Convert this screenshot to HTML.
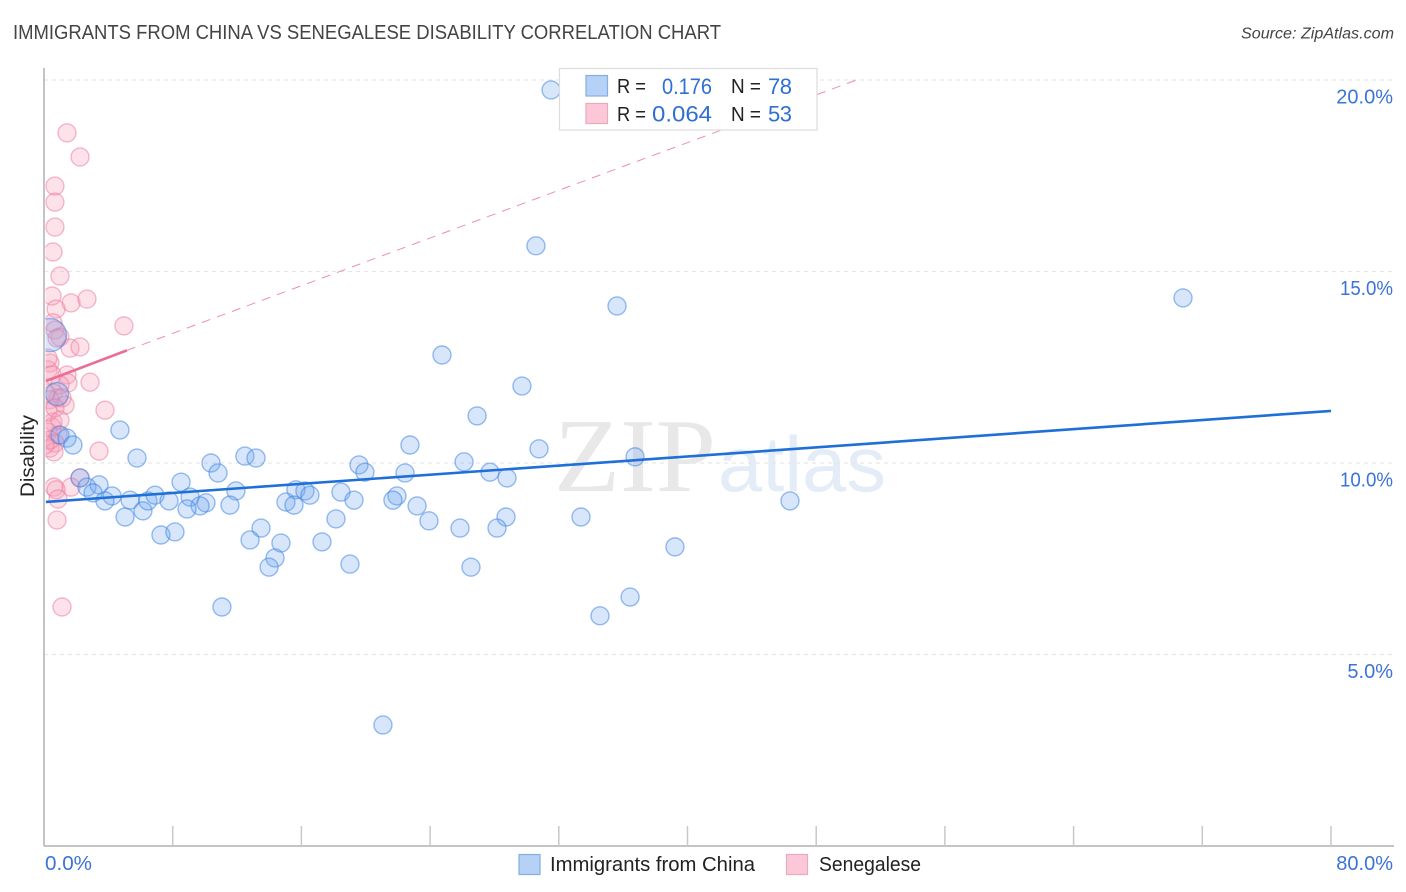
<!DOCTYPE html>
<html lang="en">
<head>
<meta charset="utf-8">
<title>Immigrants from China vs Senegalese Disability Correlation Chart</title>
<style>
html,body{margin:0;padding:0;background:#fff;}
body{width:1406px;height:892px;overflow:hidden;}
svg{display:block;font-family:"Liberation Sans",sans-serif;}
</style>
</head>
<body>
<svg id="chart" xmlns="http://www.w3.org/2000/svg" width="1406" height="892" viewBox="0 0 1406 892">
  <defs>
    <clipPath id="plot-clip"><rect x="45.5" y="60" width="1360" height="786"/></clipPath>
  </defs>
  <rect x="0" y="0" width="1406" height="892" fill="#fff"/>
  <text x="13" y="39" font-size="20" fill="#444" textLength="708" lengthAdjust="spacingAndGlyphs">IMMIGRANTS FROM CHINA VS SENEGALESE DISABILITY CORRELATION CHART</text>
  <text x="1241" y="38.5" font-size="15.5" font-style="italic" fill="#444" textLength="153" lengthAdjust="spacingAndGlyphs">Source: ZipAtlas.com</text>
  <g>
    <text x="554" y="491" font-family="'Liberation Serif',serif" font-size="105" fill="#e8e8e8" textLength="162" lengthAdjust="spacingAndGlyphs">ZIP</text>
    <text x="718" y="491" font-size="78" fill="#e4ecf8" textLength="168" lengthAdjust="spacingAndGlyphs">atlas</text>
  </g>
  <g id="grid"></g>
  <g id="axes"></g>
  <g id="points" clip-path="url(#plot-clip)"></g>
  <g id="trends"></g>
  <text transform="translate(34 456) rotate(-90)" font-size="19" fill="#222" text-anchor="middle" textLength="82" lengthAdjust="spacingAndGlyphs">Disability</text>
  <g>
    <rect x="559.5" y="68.5" width="257.5" height="61.5" fill="#fff" stroke="#dcdcdc" stroke-width="1.2"/>
    <rect x="586" y="75.5" width="21.5" height="20.5" fill="#b5d1f5" stroke="#85aee3" stroke-width="1.2"/>
    <rect x="586" y="103.5" width="21.5" height="20" fill="#fcc8d8" stroke="#eba9bf" stroke-width="1.2"/>
    <text x="617" y="93" font-size="20" fill="#222" textLength="29" lengthAdjust="spacingAndGlyphs">R =</text>
    <text x="662" y="94" font-size="22" fill="#2f6fd1" textLength="50" lengthAdjust="spacingAndGlyphs">0.176</text>
    <text x="731" y="93" font-size="20" fill="#222" textLength="30" lengthAdjust="spacingAndGlyphs">N =</text>
    <text x="768" y="94" font-size="22" fill="#2f6fd1" textLength="24">78</text>
    <text x="617" y="121" font-size="20" fill="#222" textLength="29" lengthAdjust="spacingAndGlyphs">R =</text>
    <text x="652" y="121.5" font-size="22" fill="#2f6fd1" textLength="60" lengthAdjust="spacingAndGlyphs">0.064</text>
    <text x="731" y="121" font-size="20" fill="#222" textLength="30" lengthAdjust="spacingAndGlyphs">N =</text>
    <text x="768" y="121.5" font-size="22" fill="#2f6fd1" textLength="24">53</text>
  </g>
  <g>
    <rect x="519" y="854.5" width="21" height="20" fill="#b5d1f5" stroke="#85aee3" stroke-width="1.2"/>
    <text x="550" y="871" font-size="20" fill="#222" textLength="205" lengthAdjust="spacingAndGlyphs">Immigrants from China</text>
    <rect x="786.5" y="854.5" width="21" height="20" fill="#fcc8d8" stroke="#eba9bf" stroke-width="1.2"/>
    <text x="819" y="871" font-size="20" fill="#222" textLength="102" lengthAdjust="spacingAndGlyphs">Senegalese</text>
  </g>
</svg>
<script>
// Chart data, in axis units (percent)
const xTickValues = [8, 16, 24, 32, 40, 48, 56, 64, 72, 80];
const xEndLabels = ["0.0%", "80.0%"];
const yTickValues = [5, 10, 15, 20];
const yTickLabels = ["5.0%", "10.0%", "15.0%", "20.0%"];

const chinaX = [5.78,5.35,5.04,6.15,6.46,6.90,7.77,8.52,10.38,10.82,12.49,13.18,11.93,9.08,10.07,9.70,8.89,11.56,7.27,8.14,13.49,12.81,14.73,14.36,13.99,15.66,16.22,16.53,15.04,15.54,22.75,26.11,19.58,19.95,22.44,18.46,19.27,21.94,21.69,23.19,23.93,18.15,25.86,17.28,19.02,26.54,31.52,30.58,35.62,70.80,24.74,29.71,26.92,30.77,36.74,27.72,28.78,28.72,28.16,33.38,46.37,39.22,36.43,34.56,11.06,21.07,2.24,2.67,3.42,3.05,4.23,3.79,4.72,0.99,1.43,1.80,0.81,0.37];
const chinaY = [10.13,9.03,8.59,8.75,9.01,9.16,9.01,9.50,10.00,9.74,10.18,10.13,9.27,9.11,8.96,8.88,8.80,8.90,8.12,8.20,8.30,7.99,7.91,7.52,7.28,9.30,9.27,9.16,8.98,8.90,10.47,10.03,9.95,9.76,9.74,9.24,9.03,9.14,9.03,8.88,8.49,8.54,8.30,7.94,7.36,7.28,19.74,15.67,14.10,14.31,12.82,12.01,11.23,10.37,10.16,9.76,9.61,8.59,8.30,8.59,9.01,7.81,6.50,6.01,6.24,3.16,9.61,9.37,9.43,9.22,9.14,9.01,10.86,10.73,10.65,10.47,11.80,13.34];

const senegalX = [1.43,2.24,0.68,0.68,0.68,0.56,0.99,0.50,1.68,2.67,4.97,0.75,0.56,0.68,0.99,0.81,1.62,2.24,0.37,0.25,0.50,1.43,1.49,0.99,0.56,0.87,1.31,0.37,2.86,3.79,0.56,0.25,0.87,0.50,0.68,0.37,3.42,0.62,0.37,2.24,1.68,0.62,0.75,0.87,0.81,1.12,0.25,0.12,1.12,0.25,0.68,0.99,0.06];
const senegalY = [18.62,17.99,17.23,16.81,16.16,15.51,14.88,14.36,14.18,14.28,13.58,14.02,13.66,13.47,13.29,13.26,13.00,13.03,12.61,12.43,12.30,12.30,12.09,12.04,11.83,11.70,11.51,11.65,12.11,11.38,11.07,10.81,10.73,10.94,10.52,10.39,10.31,10.29,10.60,9.61,9.37,9.37,9.30,9.06,8.51,6.24,12.74,11.83,11.70,11.33,11.44,11.12,10.47];

const chinaTrend = [8.98, 11.36];        // value at x = 0 and x = 80
const senegalTrendStart = 12.14;         // value at x = 0
const senegalTrendSolidEnd = [5.15, 12.94];
const senegalTrendDashEnd = [50.5, 20];

// Axis functions
const X0 = 44, X1 = 1331, Y0 = 846, Y20 = 80;
const sx = function (v) { return X0 + (v / 80) * (X1 - X0); };
const sy = function (v) { return Y0 - (v / 20) * (Y0 - Y20); };
const NS = 'http://www.w3.org/2000/svg';
const make = function (parent, tag, props) {
  const el = document.createElementNS(NS, tag);
  for (const k in props) el.setAttribute(k, props[k]);
  parent.appendChild(el);
  return el;
};

const grid = document.getElementById('grid');
const axes = document.getElementById('axes');
const pts = document.getElementById('points');
const trends = document.getElementById('trends');

// Gridlines and y tick labels
yTickValues.forEach(function (v, i) {
  const line = make(grid, 'line', {x1: X0, x2: 1394, y1: sy(v), y2: sy(v), stroke: '#e6e6e6', 'stroke-width': 1.2, 'stroke-dasharray': '4 4'});
  
  
  const label = yTickLabels[i];
  const t = make(axes, 'text', {x: 1393, y: sy(v) + 23.4, 'font-size': 20, fill: '#3b74d6', 'text-anchor': 'end'});
  if (label.charAt(0) === '1') {
    t.setAttribute('textLength', 53);
    t.setAttribute('lengthAdjust', 'spacingAndGlyphs');
  }
  t.textContent = label;
  
  
});

// Axes
const yAxis = make(axes, 'line', {x1: X0, x2: X0, y1: 68, y2: Y0, stroke: '#b0b0b0', 'stroke-width': 1.5});


const xAxis = make(axes, 'line', {x1: X0, x2: 1394, y1: Y0, y2: Y0, stroke: '#b0b0b0', 'stroke-width': 1.5});



xTickValues.forEach(function (v) {
  const tick = make(axes, 'line', {x1: sx(v), x2: sx(v), y1: 826, y2: Y0, stroke: '#c8c8c8', 'stroke-width': 1.5});
  
  
});

const xLabelStart = make(axes, 'text', {x: 45, y: 870, 'font-size': 20, fill: '#3b74d6', textLength: 47, lengthAdjust: 'spacingAndGlyphs'});
xLabelStart.textContent = xEndLabels[0];


const xLabelEnd = make(axes, 'text', {x: 1393, y: 870, 'font-size': 20, fill: '#3b74d6', 'text-anchor': 'end'});
xLabelEnd.textContent = xEndLabels[1];



// Points
senegalX.forEach(function (x, i) {
  const c = make(pts, 'circle', {cx: sx(x), cy: sy(senegalY[i]), r: 9, fill: 'rgba(250,160,185,0.3)', stroke: 'rgba(235,120,155,0.5)', 'stroke-width': 1.4});
  
  
});
chinaX.forEach(function (x, i) {
  const n = chinaX.length;
  const radius = i === n - 1 ? 16.5 : (i === n - 2 ? 11.5 : 9);
  const c = make(pts, 'circle', {cx: sx(x), cy: sy(chinaY[i]), r: radius, fill: 'rgba(110,165,240,0.28)', stroke: 'rgba(60,130,225,0.52)', 'stroke-width': 1.4});
  
  
});

// Trend lines
const chinaLine = make(trends, 'line', {x1: sx(0.12), y1: sy(chinaTrend[0] + (chinaTrend[1] - chinaTrend[0]) * 0.12 / 80), x2: sx(80), y2: sy(chinaTrend[1]), stroke: '#1f6fd8', 'stroke-width': 2.6});


const senegalDash = make(trends, 'line', {x1: sx(senegalTrendSolidEnd[0]), y1: sy(senegalTrendSolidEnd[1]), x2: sx(senegalTrendDashEnd[0]), y2: sy(senegalTrendDashEnd[1]), stroke: '#ee8fae', 'stroke-width': 1, 'stroke-dasharray': '9 7'});


const senegalSolid = make(trends, 'line', {x1: sx(0.12), y1: sy(senegalTrendStart), x2: sx(senegalTrendSolidEnd[0]), y2: sy(senegalTrendSolidEnd[1]), stroke: '#ea6d95', 'stroke-width': 2.6});


</script>
</body>
</html>
